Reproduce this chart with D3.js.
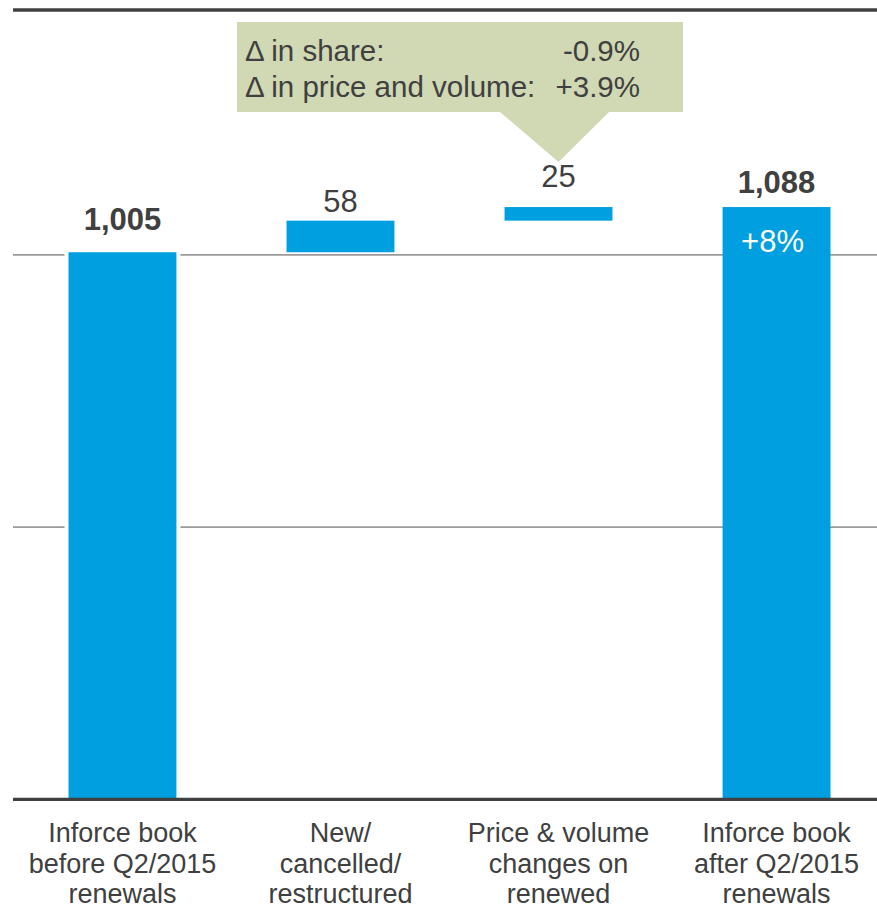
<!DOCTYPE html>
<html>
<head>
<meta charset="utf-8">
<script src="https://cdn.jsdelivr.net/npm/d3@7"></script>
<style>
  body { margin: 0; background: #fff; }
  svg { display: block; font-family: "Liberation Sans", Arial, sans-serif; }
</style>
</head>
<body>
<script>
// data
var categories = [
  ['Inforce book', 'before Q2/2015', 'renewals'],
  ['New/', 'cancelled/', 'restructured'],
  ['Price & volume', 'changes on', 'renewed'],
  ['Inforce book', 'after Q2/2015', 'renewals']
];
var values = [1005, 58, 25, 1088];
var barTypes = ['total', 'delta', 'delta', 'total'];
var gridTicks = [500, 1000];
var growthLabel = '+8%';
var calloutLabels = ['\u0394 in share:', '\u0394 in price and volume:'];
var calloutValues = ['-0.9%', '+3.9%'];

// styles
var barColor = '#009fdf',
  textColor = '#404040',
  gridColor = '#9a9a9a',
  calloutColor = '#d0d8b4',
  labelGap = [22, 9, 20, 14];

var width = 877, height = 908;

var svg = d3.select('body').append('svg')
  .attr('width', width)
  .attr('height', height);

// scales
var x = d3.scaleBand()
  .domain(d3.range(values.length))
  .range([14, 885])
  .paddingInner(0.505)
  .paddingOuter(0.25);

var y = d3.scaleLinear()
  .domain([0, 1450])
  .range([799.3, 10]);

// waterfall start/end
var running = 0;
var bars = values.map(function(v, i) {
  var b;
  if (barTypes[i] === 'total') {
    b = {i: i, v: v, y0: 0, y1: v, type: 'total'};
    running = v;
  } else {
    b = {i: i, v: v, y0: running, y1: running + v, type: 'delta'};
    running += v;
  }
  return b;
});

// top frame line
svg.append('line')
  .attr('x1', 13).attr('x2', width)
  .attr('y1', y(1450)).attr('y2', y(1450))
  .attr('stroke', textColor)
  .attr('stroke-width', 3.5);

// grid lines
svg.selectAll('.grid')
  .data(gridTicks)
  .enter().append('line')
  .attr('class', 'grid')
  .attr('x1', 13).attr('x2', width)
  .attr('y1', function(d) { return y(d); })
  .attr('y2', function(d) { return y(d); })
  .attr('stroke', gridColor)
  .attr('stroke-width', 1.8);

// white gap behind the first bar
svg.append('rect')
  .attr('x', x(0) - 4)
  .attr('width', x.bandwidth() + 8)
  .attr('y', y(bars[0].y1) - 4)
  .attr('height', y(0) - y(bars[0].y1))
  .attr('fill', '#fff');

// bars
svg.selectAll('.bar')
  .data(bars)
  .enter().append('rect')
  .attr('class', 'bar')
  .attr('x', function(d) { return x(d.i); })
  .attr('width', x.bandwidth())
  .attr('y', function(d) { return y(d.y1); })
  .attr('height', function(d) { return y(d.y0) - y(d.y1); })
  .attr('fill', barColor);

// axis line
svg.append('line')
  .attr('x1', 13).attr('x2', width)
  .attr('y1', y(0)).attr('y2', y(0))
  .attr('stroke', textColor)
  .attr('stroke-width', 3.3);

// value labels
var fmt = d3.format(',');
svg.selectAll('.val')
  .data(bars)
  .enter().append('text')
  .attr('class', 'val')
  .attr('x', function(d) { return x(d.i) + x.bandwidth() / 2; })
  .attr('y', function(d) { return y(d.y1) - labelGap[d.i]; })
  .attr('text-anchor', 'middle')
  .attr('font-size', 31)
  .attr('font-weight', function(d) { return d.type === 'total' ? 'bold' : 'normal'; })
  .attr('fill', textColor)
  .text(function(d) { return fmt(d.v); });

// growth label inside last bar
var last = bars[bars.length - 1];
svg.append('text')
  .attr('x', x(last.i) + x.bandwidth() / 2 - 4)
  .attr('y', y(last.y1) + 45)
  .attr('text-anchor', 'middle')
  .attr('font-size', 31)
  .attr('fill', '#fff')
  .text(growthLabel);

// category labels
var cat = svg.selectAll('.cat')
  .data(categories)
  .enter().append('text')
  .attr('class', 'cat')
  .attr('text-anchor', 'middle')
  .attr('font-size', 27)
  .attr('fill', textColor);

cat.selectAll('tspan')
  .data(function(d, i) { return d.map(function(t) { return {t: t, i: i}; }); })
  .enter().append('tspan')
  .attr('x', function(d) { return x(d.i) + x.bandwidth() / 2; })
  .attr('y', function(d, j) { return 842 + j * 30.5; })
  .text(function(d) { return d.t; });

// callout box pointing at the price & volume bar
var tipX = x(2) + x.bandwidth() / 2;
var callout = svg.append('g');
callout.append('rect')
  .attr('x', 237).attr('y', 22)
  .attr('width', 446).attr('height', 90)
  .attr('fill', calloutColor);
callout.append('path')
  .attr('d', 'M' + (tipX - 59) + ',111.5L' + (tipX + 51) + ',111.5L' + tipX + ',162Z')
  .attr('fill', calloutColor);

callout.selectAll('.cl')
  .data(calloutLabels)
  .enter().append('text')
  .attr('x', 245)
  .attr('y', function(d, i) { return 61 + i * 36; })
  .attr('font-size', 29.5)
  .attr('fill', textColor)
  .text(function(d) { return d; });

callout.selectAll('.cv')
  .data(calloutValues)
  .enter().append('text')
  .attr('x', 640)
  .attr('y', function(d, i) { return 61 + i * 36; })
  .attr('text-anchor', 'end')
  .attr('font-size', 29.5)
  .attr('fill', textColor)
  .text(function(d) { return d; });
</script>
</body>
</html>
